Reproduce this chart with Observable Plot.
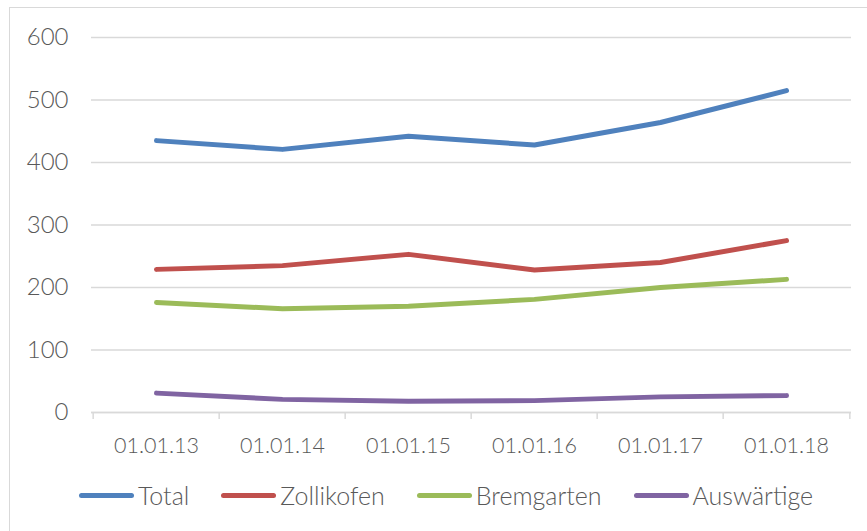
<!DOCTYPE html>
<html>
<head>
<meta charset="utf-8">
<script src="https://cdn.jsdelivr.net/npm/d3@7"></script>
<script src="https://cdn.jsdelivr.net/npm/@observablehq/plot@0.6"></script>
<style>
  html, body { margin: 0; padding: 0; background: #fff; overflow: hidden; width: 867px; height: 531px; }
  #frame { position: absolute; left: 9px; top: 7px; width: 900px; height: 600px; border: 1.5px solid #d9d9d9; box-sizing: border-box; }
  #chart { position: absolute; left: 0; top: 0; }
  #legend { position: absolute; left: 79px; top: 480px; display: flex; align-items: center; font-family: Lato, "Open Sans", sans-serif; font-weight: 300; font-size: 25px; color: #595959; }
  .item { display: flex; align-items: center; margin-right: 32px; }
  .sw { width: 55px; height: 5px; border-radius: 3px; margin-right: 4px; }
  #chart svg text { font-weight: 300; }
</style>
</head>
<body>
<div id="frame"></div>
<div id="chart"></div>
<div id="legend"></div>
<script>
const dates = ["01.01.13", "01.01.14", "01.01.15", "01.01.16", "01.01.17", "01.01.18"];
const seriesNames = ["Total", "Zollikofen", "Bremgarten", "Auswärtige"];
const total = [435, 421, 442, 428, 464, 515];
const zollikofen = [229, 235, 253, 228, 240, 275];
const bremgarten = [176, 166, 170, 181, 200, 213];
const auswaertige = [31, 21, 18, 19, 25, 27];
const colors = ["#4F81BD", "#C0504D", "#9BBB59", "#8064A2"];
const yTicks = [0, 100, 200, 300, 400, 500, 600];

const valuesBySeries = [total, zollikofen, bremgarten, auswaertige];
const data = [];
seriesNames.forEach((s, si) => dates.forEach((d, i) => data.push({series: s, date: d, value: valuesBySeries[si][i]})));

const W = 867, H = 470, mL = 91, mR = 16;
const step = (W - mL - mR) / dates.length;
const font = 'Lato, "Open Sans", sans-serif';

const plot = Plot.plot({
  width: W,
  height: H,
  marginLeft: mL,
  marginRight: mR,
  marginTop: 37,
  marginBottom: 58,
  style: {fontFamily: font, fontSize: "21px", color: "#595959", background: "transparent"},
  x: {type: "point", domain: dates, padding: 0.5, label: null},
  y: {domain: [0, 600], label: null},
  color: {domain: seriesNames, range: colors},
  marks: [
    Plot.gridY(yTicks, {stroke: "#d9d9d9", strokeOpacity: 1, strokeWidth: 1.5}),
    Plot.axisY(yTicks, {tickSize: 0, tickPadding: 23, fill: "#595959", fontSize: 24, label: null}),
    Plot.axisX({tickSize: 0, tickPadding: 25, fill: "#595959", fontSize: 21.5, label: null}),
    Plot.ruleY([0], {stroke: "#d9d9d9", strokeWidth: 1.5}),
    Plot.ruleX([dates[dates.length - 1]], {dx: step / 2, y1: 0, y2: 0, stroke: "#d9d9d9", strokeWidth: 1.5, insetBottom: -7}),
    Plot.ruleX(dates, {dx: -step / 2, y1: 0, y2: 0, stroke: "#d9d9d9", strokeWidth: 1.5, insetBottom: -7}),
    Plot.line(data, {x: "date", y: "value", z: "series", stroke: "series", strokeWidth: 5, strokeLinecap: "round", strokeLinejoin: "round", curve: "linear"})
  ]
});
document.getElementById("chart").appendChild(plot);

const legend = document.getElementById("legend");
seriesNames.forEach((s, i) => {
  const item = document.createElement("div");
  item.className = "item";
  const sw = document.createElement("div");
  sw.className = "sw";
  sw.style.background = colors[i];
  const t = document.createElement("span");
  t.textContent = s;
  item.appendChild(sw);
  item.appendChild(t);
  legend.appendChild(item);
});
</script>
</body>
</html>
